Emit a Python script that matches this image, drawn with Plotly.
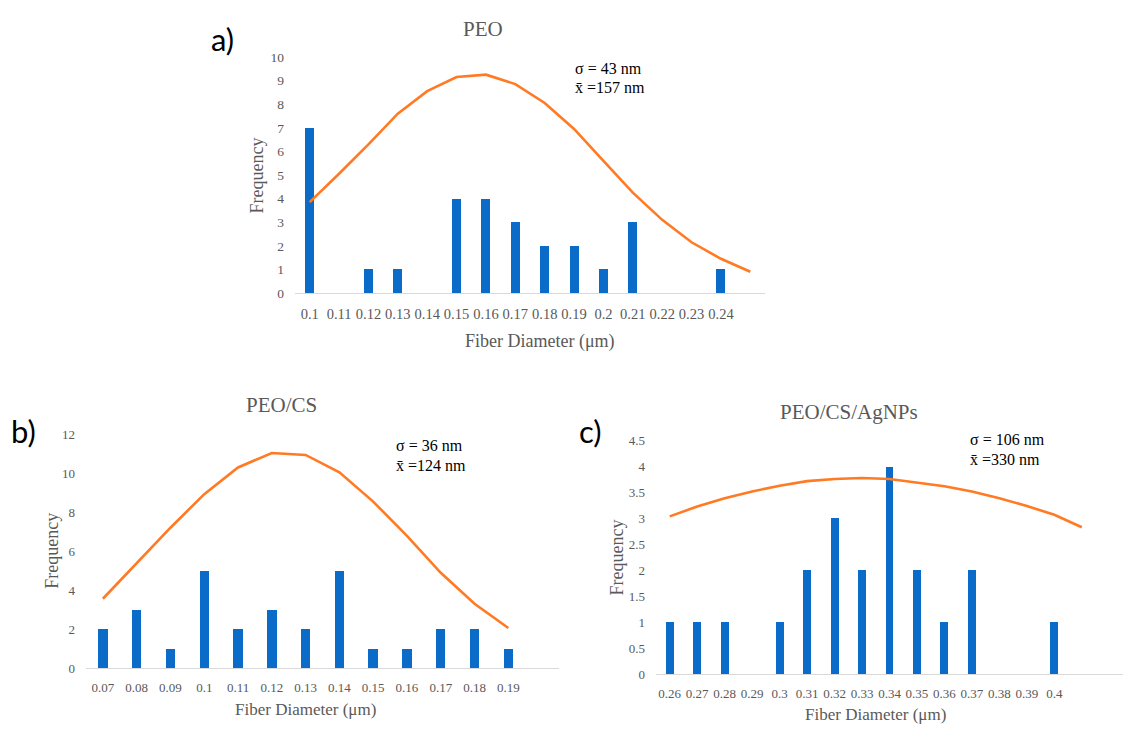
import plotly.graph_objects as go

W, H = 1126, 733

# ---------------- data ----------------
# a) PEO
peo_diam = [0.10, 0.11, 0.12, 0.13, 0.14, 0.15, 0.16, 0.17, 0.18, 0.19, 0.20, 0.21, 0.22, 0.23, 0.24]
peo_labels = ["0.1", "0.11", "0.12", "0.13", "0.14", "0.15", "0.16", "0.17", "0.18", "0.19", "0.2", "0.21", "0.22", "0.23", "0.24"]
peo_count = [7, 0, 1, 1, 0, 4, 4, 3, 2, 2, 1, 3, 0, 0, 1]
peo_fit_diam = [0.10, 0.11, 0.12, 0.13, 0.14, 0.15, 0.16, 0.17, 0.18, 0.19, 0.20, 0.21, 0.22, 0.23, 0.24, 0.25]
peo_fit = [3.85, 5.05, 6.3, 7.6, 8.55, 9.15, 9.25, 8.85, 8.05, 6.95, 5.6, 4.25, 3.1, 2.15, 1.45, 0.9]

# b) PEO/CS
cs_diam = [0.07, 0.08, 0.09, 0.10, 0.11, 0.12, 0.13, 0.14, 0.15, 0.16, 0.17, 0.18, 0.19]
cs_labels = ["0.07", "0.08", "0.09", "0.1", "0.11", "0.12", "0.13", "0.14", "0.15", "0.16", "0.17", "0.18", "0.19"]
cs_count = [2, 3, 1, 5, 2, 3, 2, 5, 1, 1, 2, 2, 1]
cs_fit = [3.56, 5.36, 7.2, 8.92, 10.29, 11.03, 10.93, 10.04, 8.54, 6.78, 4.89, 3.3, 2.06]

# c) PEO/CS/AgNPs
ag_diam = [0.26, 0.27, 0.28, 0.29, 0.30, 0.31, 0.32, 0.33, 0.34, 0.35, 0.36, 0.37, 0.38, 0.39, 0.40]
ag_labels = ["0.26", "0.27", "0.28", "0.29", "0.3", "0.31", "0.32", "0.33", "0.34", "0.35", "0.36", "0.37", "0.38", "0.39", "0.4"]
ag_count = [1, 1, 1, 0, 1, 2, 3, 2, 4, 2, 1, 2, 0, 0, 1]
ag_fit_diam = [0.26, 0.27, 0.28, 0.29, 0.30, 0.31, 0.32, 0.33, 0.34, 0.35, 0.36, 0.37, 0.38, 0.39, 0.40, 0.41]
ag_fit = [3.04, 3.23, 3.39, 3.52, 3.63, 3.72, 3.76, 3.78, 3.76, 3.69, 3.62, 3.52, 3.39, 3.24, 3.07, 2.83]

titles = ["PEO", "PEO/CS", "PEO/CS/AgNPs"]
letters = ["a)", "b)", "c)"]
stats = [("43", "157"), ("36", "124"), ("106", "330")]

# ---------------- style ----------------
BLUE = "#0A6BC9"
ORANGE = "#FF7A22"
GREY = "#595959"
AXIS = "#D9D9D9"
SERIF = "Liberation Serif"
SANS = "Lato"


def px(x):
    return x / W


def py(y):
    return 1 - y / H


fig = go.Figure()

panels = [
    dict(d=peo_diam, lab=peo_labels, cnt=peo_count, fx=peo_fit_diam, fy=peo_fit,
         xdom=(295, 765), ydom=(292, 51), xr=(0.095, 0.255), yr=(0, 10), dtick=1,
         bw=0.0031, tfs=14.5, yfs=13.5),
    dict(d=cs_diam, lab=cs_labels, cnt=cs_count, fx=cs_diam, fy=cs_fit,
         xdom=(86, 559), ydom=(675, 436), xr=(0.065, 0.205), yr=(0, 12), dtick=2,
         bw=0.0028, tfs=13, yfs=13),
    dict(d=ag_diam, lab=ag_labels, cnt=ag_count, fx=ag_fit_diam, fy=ag_fit,
         xdom=(656, 1123), ydom=(681, 442.7), xr=(0.255, 0.425), yr=(0, 4.5), dtick=0.5,
         bw=0.0029, tfs=13, yfs=13),
]

layout = dict(width=W, height=H, margin=dict(l=0, r=0, t=0, b=0),
              paper_bgcolor="white", plot_bgcolor="white", showlegend=False,
              bargap=0)

for i, p in enumerate(panels):
    k = "" if i == 0 else str(i + 1)
    fig.add_trace(go.Bar(x=p["d"], y=p["cnt"], width=p["bw"], marker_color=BLUE,
                         marker_line_width=0, xaxis="x" + k, yaxis="y" + k))
    fig.add_trace(go.Scatter(x=p["fx"], y=p["fy"], mode="lines",
                             line=dict(color=ORANGE, width=2.6),
                             xaxis="x" + k, yaxis="y" + k))
    layout["xaxis" + k] = dict(
        domain=[px(p["xdom"][0]), px(p["xdom"][1])], range=list(p["xr"]),
        anchor="y" + k, showgrid=False, zeroline=False, showline=True,
        linecolor=AXIS, linewidth=1.2, tickmode="array", tickvals=p["d"],
        ticktext=p["lab"], ticks="", ticklabelstandoff=7,
        tickfont=dict(family=SERIF, size=p["tfs"], color=GREY), fixedrange=True)
    layout["yaxis" + k] = dict(
        domain=[py(p["ydom"][0]), py(p["ydom"][1])], range=list(p["yr"]),
        anchor="x" + k, showgrid=False, zeroline=False, showline=False,
        tickmode="linear", tick0=0, dtick=p["dtick"], ticks="",
        ticklabelstandoff=10,
        tickfont=dict(family=SERIF, size=p["yfs"], color=GREY), fixedrange=True)

fig.update_layout(**layout)

ann = []
# titles (x center, y center)
for t, (x, y) in zip(titles, [(483, 22), (281, 406), (849, 413)]):
    ann.append(dict(text=t, x=px(x), y=py(y), xref="paper", yref="paper",
                    showarrow=False, xanchor="center", yanchor="middle",
                    font=dict(family=SERIF, size=21, color=GREY)))
# panel letters
for t, (x, y) in zip(letters, [(222, 33), (23, 433), (591, 433)]):
    ann.append(dict(text=t, x=px(x), y=py(y), xref="paper", yref="paper",
                    showarrow=False, xanchor="center", yanchor="middle",
                    font=dict(family=SANS, size=31, color="black")))
# x axis titles
for (x, y), fs in zip([(540, 341), (305, 717), (875, 722)], [18, 17, 17]):
    ann.append(dict(text="Fiber Diameter (\u03bcm)", x=px(x), y=py(y), xref="paper",
                    yref="paper", showarrow=False, xanchor="center", yanchor="middle",
                    font=dict(family=SERIF, size=fs, color=GREY)))
# y axis titles
for (x, y) in [(257, 172), (52, 555), (617, 562)]:
    ann.append(dict(text="Frequency", x=px(x), y=py(y), xref="paper", yref="paper",
                    showarrow=False, xanchor="center", yanchor="middle", textangle=-90,
                    font=dict(family=SERIF, size=18, color=GREY)))
# stats
for (sd, mn), (x, y1, y2) in zip(stats, [(573, 63, 82), (394, 448, 468), (968, 442, 462)]):
    ann.append(dict(text="\u03c3 = " + sd + " nm", x=px(x), y=py(y1), xref="paper",
                    yref="paper", showarrow=False, xanchor="left", yanchor="middle",
                    font=dict(family=SERIF, size=16, color="black")))
    ann.append(dict(text="x\u0304 =" + mn + " nm", x=px(x), y=py(y2), xref="paper",
                    yref="paper", showarrow=False, xanchor="left", yanchor="middle",
                    font=dict(family=SERIF, size=16, color="black")))

fig.update_layout(annotations=ann)
fig.write_html("out.html", config={"displayModeBar": False, "staticPlot": True},
               post_script="document.body.style.margin='0';document.body.style.overflow='hidden';")
